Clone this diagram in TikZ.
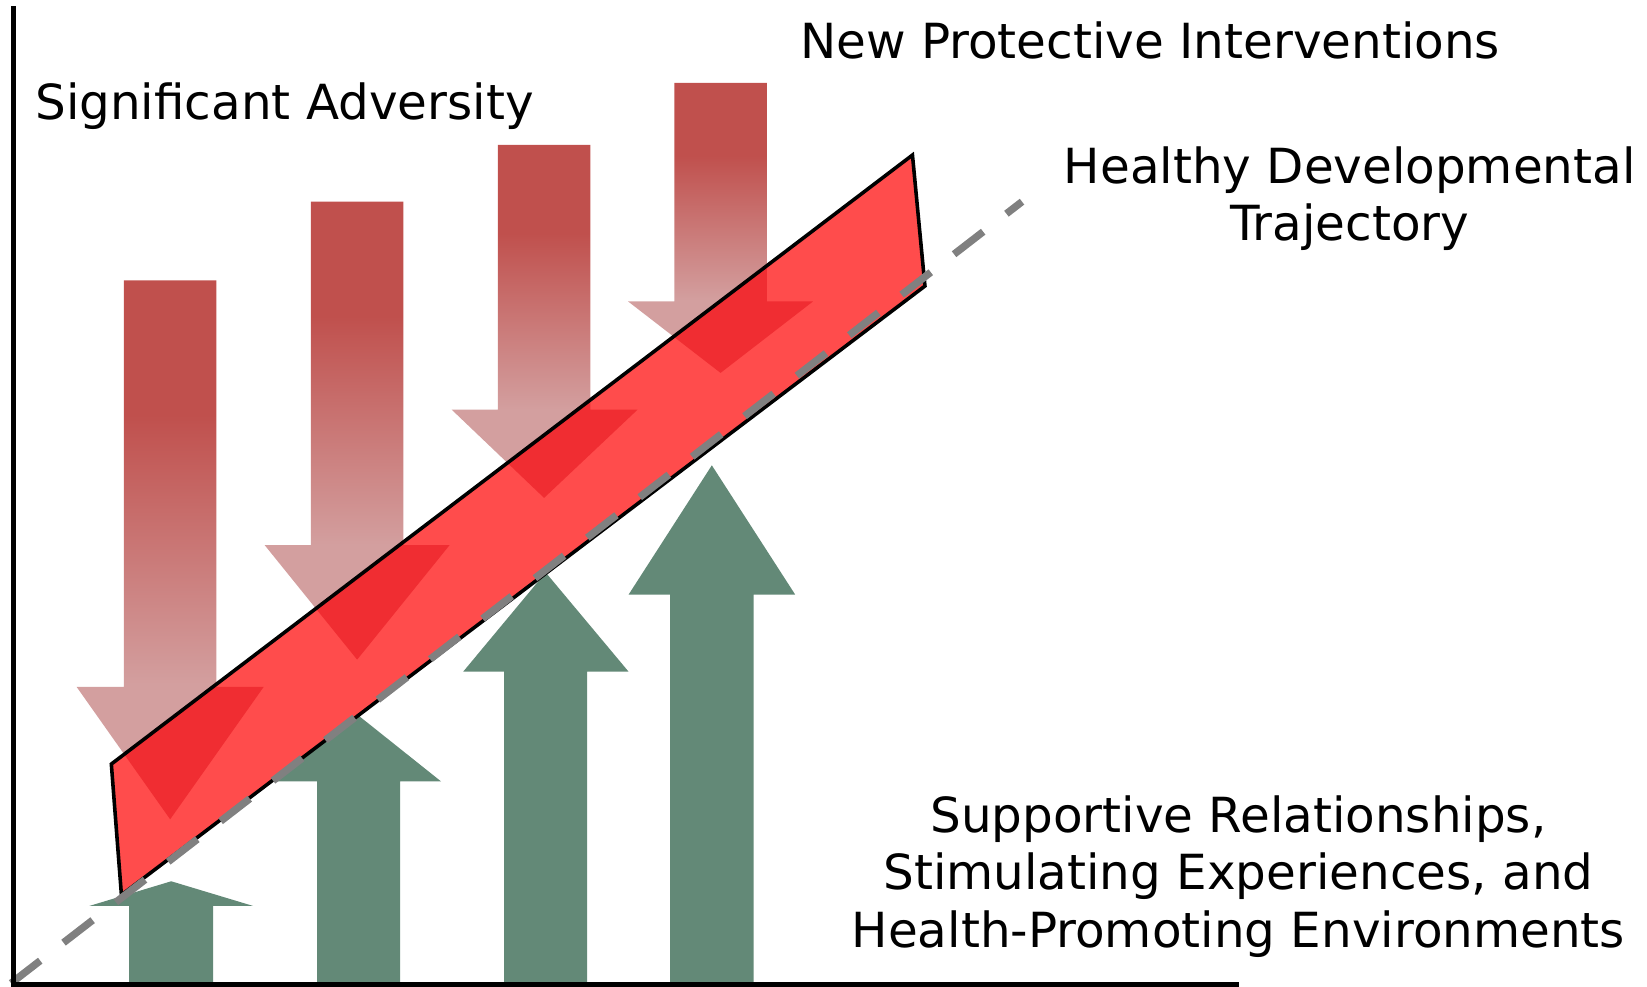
\documentclass[tikz,border=0pt]{standalone}
\usepackage{fontspec}
\setmainfont{DejaVu Sans}
\definecolor{rdark}{RGB}{192,80,77}
\definecolor{rlight}{RGB}{211,159,159}
\definecolor{rover}{RGB}{240,45,50}
\definecolor{bandred}{RGB}{255,76,76}
\definecolor{sgreen}{RGB}{99,137,119}
\definecolor{dgray}{RGB}{128,128,128}
\pgfdeclareverticalshading{advshade}{100bp}{color(0bp)=(rlight); color(37.5bp)=(rlight); color(62.5bp)=(rdark); color(100bp)=(rdark)}
\tikzset{
  ra1/.style={insert path={(118,267) -- (206,267) -- (206,654) -- (251,654) -- (162,780) -- (73,654) -- (118,654) -- cycle}},
  ra2/.style={insert path={(296,192) -- (384,192) -- (384,519) -- (428,519) -- (340,628) -- (252,519) -- (296,519) -- cycle}},
  ra3/.style={insert path={(474,138) -- (562,138) -- (562,390) -- (607,390) -- (518,474) -- (430,390) -- (474,390) -- cycle}},
  ra4/.style={insert path={(642,79) -- (730,79) -- (730,287) -- (774,287) -- (686,355) -- (598,287) -- (642,287) -- cycle}},
  bandp/.style={insert path={(106,727.4) -- (868.7,147.6) -- (880.6,272.3) -- (115.6,852) -- cycle}},
  advarrow/.style={shading=advshade},
  suparrow/.style={fill=sgreen},
  lbl/.style={font=\fontsize{13.1}{15.5}\selectfont, inner sep=0pt, align=center},
}
\begin{document}
\begin{tikzpicture}[x=0.01cm, y=-0.01cm]
\useasboundingbox (0,0) rectangle (1568,939);
% adversity arrows
\shade[advarrow, ra1];
\shade[advarrow, ra2];
\shade[advarrow, ra3];
\shade[advarrow, ra4];
% trajectory band
\fill[bandred, bandp];
\begin{scope}
  \clip[bandp];
  \fill[rover, ra1];
  \fill[rover, ra2];
  \fill[rover, ra3];
  \fill[rover, ra4];
\end{scope}
% supportive arrows
\fill[suparrow] (123,939) -- (123,862.5) -- (85,862.5) -- (163,839) -- (241,862.5) -- (203,862.5) -- (203,939) -- cycle;
\fill[suparrow] (302,939) -- (302,744) -- (261,744) -- (341,681) -- (420,744) -- (381,744) -- (381,939) -- cycle;
\fill[suparrow] (480,939) -- (480,639.4) -- (441,639.4) -- (519.5,545) -- (598.4,639.4) -- (559,639.4) -- (559,939) -- cycle;
\fill[suparrow] (638,939) -- (638,566) -- (598.5,566) -- (677.7,443) -- (757,566) -- (717.4,566) -- (717.4,939) -- cycle;
% band outline
\draw[black, line width=0.034cm, line join=miter, bandp];
% dashed trajectory
\coordinate (d0) at (10.6,936);
\coordinate (d1) at (973,192);
\draw[dgray, line width=0.07cm, dash pattern=on 0.35cm off 0.28cm] (d0) -- (d1);
% axes
\coordinate (ytop) at (13,6);
\coordinate (orig) at (13,937);
\coordinate (xend) at (1180,937);
\draw[black, line width=0.05cm] (ytop) -- (orig) -- (xend);
% labels
\node[lbl, anchor=base west] (adv) at (33,114.2) {Significant Adversity};
\node[lbl, anchor=base] (npi) at (1095,55.5) {New Protective Interventions};
\node[lbl, anchor=north] (hdt) at (1285,139) {Healthy Developmental\\Trajectory};
\node[lbl, anchor=north] (srs) at (1179,757) {Supportive Relationships,\\Stimulating Experiences, and\\Health-Promoting Environments};
\end{tikzpicture}
\end{document}
